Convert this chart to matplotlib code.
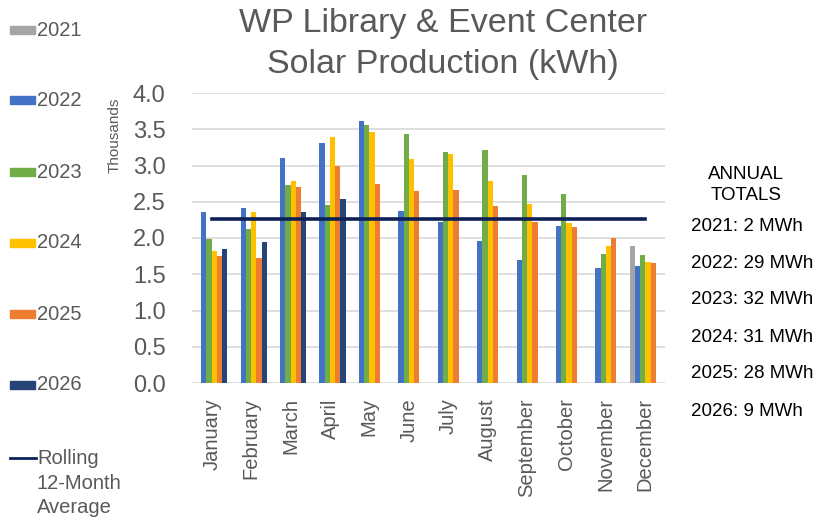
import numpy as np
import matplotlib
matplotlib.use('Agg')
import matplotlib.pyplot as plt
from matplotlib.patches import Rectangle
from matplotlib.lines import Line2D
from matplotlib.ticker import FuncFormatter

plt.rcParams['font.family'] = ['Liberation Sans', 'DejaVu Sans']

months = ['January', 'February', 'March', 'April', 'May', 'June', 'July',
          'August', 'September', 'October', 'November', 'December']
nan = np.nan
# monthly production, kWh
y2021 = [nan, nan, nan, nan, nan, nan, nan, nan, nan, nan, nan, 1890]
y2022 = [2360, 2410, 3100, 3310, 3610, 2370, 2220, 1960, 1700, 2170, 1590, 1620]
y2023 = [1990, 2130, 2730, 2460, 3560, 3430, 3190, 3220, 2870, 2610, 1780, 1760]
y2024 = [1820, 2360, 2790, 3390, 3460, 3090, 3160, 2780, 2470, 2210, 1890, 1670]
y2025 = [1750, 1730, 2700, 3000, 2750, 2650, 2660, 2440, 2220, 2150, 2000, 1650]
y2026 = [1850, 1940, 2360, 2540, nan, nan, nan, nan, nan, nan, nan, nan]
rolling_avg = [2265, 2265, 2265, 2265, 2265, 2265, 2265, 2265, 2265, 2265, 2265, 2265]

series_names = ['2021', '2022', '2023', '2024', '2025', '2026']
series_vals = [y2021, y2022, y2023, y2024, y2025, y2026]
colors = ['#A5A5A5', '#4472C4', '#70AD47', '#FFC000', '#ED7D31', '#264478']
line_color = '#0d2156'

totals_years = ['2021', '2022', '2023', '2024', '2025', '2026']
totals_mwh = [2, 29, 32, 31, 28, 9]

fig = plt.figure(figsize=(8.18, 5.25), dpi=100)
ax = fig.add_axes([192 / 818, 1 - 383 / 525, 473 / 818, 290 / 525])

x = np.arange(len(months))
w = 0.8 / len(series_vals)
for i, (vals, c) in enumerate(zip(series_vals, colors)):
    ax.bar(x + (i - 2.5) * w, vals, width=w, color=c, zorder=2)

ax.plot(x, rolling_avg, color=line_color, lw=2.6, zorder=3)

ax.set_xlim(-0.5, 11.5)
ax.set_ylim(0, 4000)
ax.set_yticks(np.arange(0, 4001, 500))
ax.yaxis.set_major_formatter(FuncFormatter(lambda v, p: f'{v / 1000:.1f}'))
ax.grid(axis='y', color='#D9D9D9', lw=1.2, zorder=0)
ax.set_axisbelow(True)
for s in ax.spines.values():
    s.set_visible(False)
ax.tick_params(axis='both', length=0)
ax.tick_params(axis='y', labelsize=17, labelcolor='#595959', pad=19)
ax.set_xticks(x)
ax.set_xticklabels(months, rotation=90, fontsize=14.5, color='#595959')
ax.tick_params(axis='x', pad=11)

fig.text(115 / 818, 1 - 135 / 525, 'Thousands', rotation=90, ha='center',
         va='center', fontsize=11, color='#595959')

fig.text(443 / 818, 1 - 44 / 525,
         'WP Library & Event Center\nSolar Production (kWh)',
         ha='center', va='center', fontsize=24.5, color='#595959',
         linespacing=1.4)

# legend on the left
leg_y = [30, 100, 172, 243, 314, 385]
for name, c, yy in zip(series_names, colors, leg_y):
    fig.patches.append(Rectangle((10 / 818, 1 - (yy + 4) / 525), 25 / 818, 8 / 525,
                                 transform=fig.transFigure, color=c))
    fig.text(37 / 818, 1 - yy / 525, name, ha='left', va='center',
             fontsize=14.5, color='#595959')
fig.lines.append(Line2D([10 / 818, 36 / 818], [1 - 458 / 525, 1 - 458 / 525],
                        transform=fig.transFigure, color=line_color, lw=2))
fig.text(37 / 818, 1 - 449 / 525, 'Rolling\n12-Month\nAverage', ha='left',
         va='top', fontsize=14.5, color='#595959', linespacing=1.38)

# annual totals on the right
fig.text(746 / 818, 1 - 185 / 525, 'ANNUAL\nTOTALS', ha='center', va='center',
         fontsize=13.5, color='black', linespacing=1.3)
tot_y = [227, 263, 300, 337, 374, 411]
for yr, t, yy in zip(totals_years, totals_mwh, tot_y):
    fig.text(691 / 818, 1 - yy / 525, f'{yr}: {t} MWh', ha='left', va='center',
             fontsize=13.5, color='black')

fig.savefig('out.png', dpi=100)
